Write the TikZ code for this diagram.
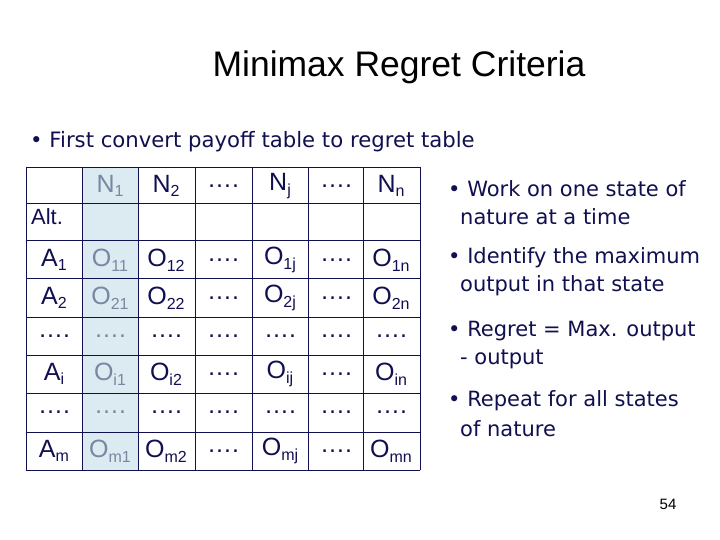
\documentclass[tikz,border=0pt]{standalone}
\usepackage{fontspec}
\setmainfont{Liberation Sans}
\newfontfamily\dv{DejaVu Sans}
\definecolor{navy}{HTML}{101050}
\definecolor{cshade}{HTML}{DCEAF2}
\definecolor{greyt}{HTML}{7888A0}
\newcommand{\subx}[2]{#1\raisebox{-0.35ex}{\fontsize{16}{16}\selectfont #2}}
\begin{document}
\begin{tikzpicture}[x=1pt,y=-1pt,
  cell/.style={font=\fontsize{25}{27}\selectfont,text=navy,inner sep=0pt,anchor=center},
  gcell/.style={cell,text=greyt},
  bul/.style={font=\dv\fontsize{21}{24}\selectfont,text=navy,anchor=west,inner sep=0pt},
  grid/.style={draw=navy,line width=0.5pt}]
\useasboundingbox (0,0) rectangle (720,540);
\fill[white] (0,0) rectangle (720,540);
\node[font=\fontsize{35.5}{38}\selectfont,inner sep=0pt] (title) at (399,67) {Minimax Regret Criteria};
\node[bul,font=\dv\fontsize{21.2}{24}\selectfont] (b0) at (30,142) {\textbullet\ First convert payoff table to regret table};
% table
\fill[cshade] (82,167) rectangle (138,470);
\foreach \x in {26,82,138,195,252,308,363,420} \draw[grid] (\x,167) -- (\x,470);
\foreach \y in {167,203,240,278,317,355,393,432,470} \draw[grid] (26,\y) -- (420,\y);
% header
\node[gcell] (n1) at (110,186) {\subx{N}{1}};
\node[cell] (n2) at (166,186) {\subx{N}{2}};
\node[cell] (d1) at (223,186) {….};
\node[cell] (nj) at (280,186) {\subx{N}{j}};
\node[cell] (d2) at (336,186) {….};
\node[cell] (nn) at (391,186) {\subx{N}{n}};
\node[cell,font=\fontsize{22}{24}\selectfont] (alt) at (47,217) {Alt.};
\foreach \r/\y/\a/\o/\p/\q/\z in {1/260/\subx{A}{1}/\subx{O}{11}/\subx{O}{12}/\subx{O}{1j}/\subx{O}{1n},
  2/298/\subx{A}{2}/\subx{O}{21}/\subx{O}{22}/\subx{O}{2j}/\subx{O}{2n},
  3/336/…./…./…./…./….,
  4/374/\subx{A}{i}/\subx{O}{i1}/\subx{O}{i2}/\subx{O}{ij}/\subx{O}{in},
  5/412/…./…./…./…./….,
  6/451/\subx{A}{m}/\subx{O}{m1}/\subx{O}{m2}/\subx{O}{mj}/\subx{O}{mn}}{
  \node[cell] (a\r) at (54,\y) {\a};
  \node[gcell] (c1\r) at (110,\y) {\o};
  \node[cell] (c2\r) at (166,\y) {\p};
  \node[cell] (c3\r) at (223,\y) {….};
  \node[cell] (c4\r) at (280,\y) {\q};
  \node[cell] (c5\r) at (336,\y) {….};
  \node[cell] (c6\r) at (391,\y) {\z};
}
% right bullets
\node[bul] (r1) at (448,189) {\textbullet\ Work on one state of};
\node[bul] (r1b) at (460,217) {nature at a time};
\node[bul] (r2) at (448,258) {\textbullet\ Identify the maximum};
\node[bul] (r2b) at (460,286) {output in that state};
\node[bul] (r3) at (448,331) {\textbullet\ Regret = Max. output};
\node[bul] (r3b) at (460,359) {- output};
\node[bul] (r4) at (448,401) {\textbullet\ Repeat for all states};
\node[bul] (r4b) at (460,429) {of nature};
\node[font=\fontsize{15}{16}\selectfont,inner sep=0pt] (pg) at (668,504) {54};
\end{tikzpicture}
\end{document}
